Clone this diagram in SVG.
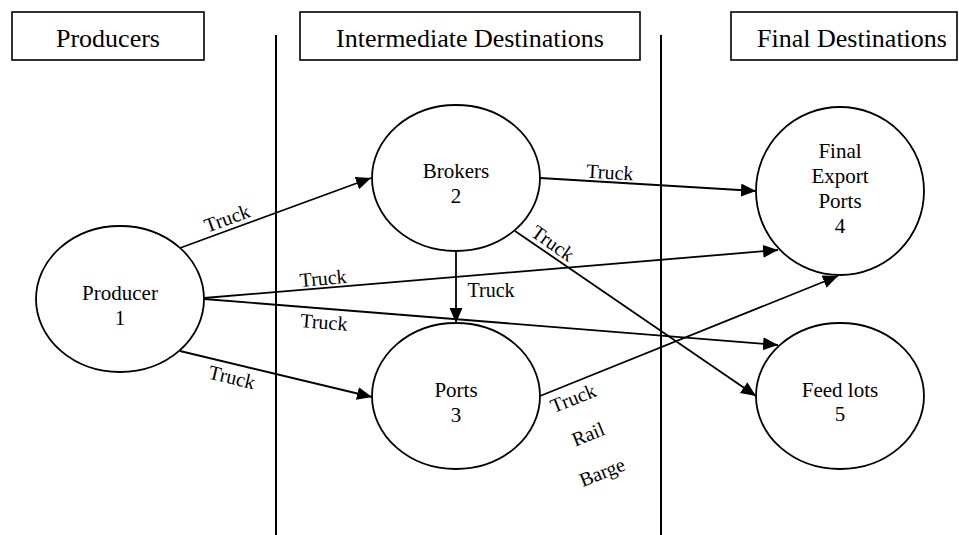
<svg xmlns="http://www.w3.org/2000/svg" width="959" height="535" viewBox="0 0 959 535">
<style>
  text { font-family: "Liberation Serif", "Times New Roman", serif; fill: #000; }
  .hdr { font-size: 26px; text-anchor: middle; }
  .hbox { fill: #fff; stroke: #000; stroke-width: 1.6; }
  .node ellipse { fill: #fff; stroke: #000; stroke-width: 1.8; }
  .node text { font-size: 21px; text-anchor: middle; }
  .sep { stroke: #000; stroke-width: 2; }
  .edge { stroke: #000; stroke-width: 1.8; fill: none; marker-end: url(#arr); }
  .lbl { font-size: 20px; text-anchor: middle; }
</style>
<defs>
  <marker id="arr" markerUnits="userSpaceOnUse" markerWidth="16" markerHeight="14" refX="15" refY="6.5" orient="auto">
    <path d="M0,0 L15,6.5 L0,13 Z" fill="#000"/>
  </marker>
</defs>
<rect width="959" height="535" fill="#fff"/>

<g id="headers">
  <rect class="hbox" x="12" y="12" width="192" height="48"/>
  <text class="hdr" x="108" y="47">Producers</text>
  <rect class="hbox" x="300" y="12" width="340" height="48"/>
  <text class="hdr" x="470" y="47">Intermediate Destinations</text>
  <rect class="hbox" x="731" y="12" width="226" height="48"/>
  <text class="hdr" x="852" y="47">Final Destinations</text>
</g>

<g id="separators">
  <line class="sep" x1="276" y1="35" x2="276" y2="535"/>
  <line class="sep" x1="661" y1="35" x2="661" y2="535"/>
</g>

<g id="connectors">
  <line class="edge" x1="180" y1="248" x2="371" y2="178"/>
  <line class="edge" x1="204" y1="298" x2="778" y2="250"/>
  <line class="edge" x1="204" y1="299" x2="778" y2="345"/>
  <line class="edge" x1="180" y1="351" x2="372" y2="397"/>
  <line class="edge" x1="456" y1="251" x2="456" y2="323"/>
  <line class="edge" x1="540" y1="178" x2="756" y2="191"/>
  <line class="edge" x1="515" y1="231" x2="756" y2="396"/>
  <line class="edge" x1="540" y1="396" x2="838" y2="276"/>
  <g id="labels">
    <text class="lbl" transform="translate(227,218) rotate(-20)" y="7">Truck</text>
    <text class="lbl" transform="translate(323,278) rotate(-5)" y="7">Truck</text>
    <text class="lbl" transform="translate(324,322) rotate(4.6)" y="7">Truck</text>
    <text class="lbl" transform="translate(232,377) rotate(13.5)" y="7">Truck</text>
    <text class="lbl" transform="translate(491,290)" y="7">Truck</text>
    <text class="lbl" transform="translate(610,172) rotate(3.5)" y="7">Truck</text>
    <text class="lbl" transform="translate(553,243) rotate(35)" y="7">Truck</text>
    <text class="lbl" transform="translate(573,398) rotate(-22)" y="7">Truck</text>
    <text class="lbl" transform="translate(588,434) rotate(-22)" y="7">Rail</text>
    <text class="lbl" transform="translate(602,472) rotate(-22)" y="7">Barge</text>
  </g>
</g>

<g id="n1" class="node">
  <ellipse cx="120" cy="299" rx="84" ry="73"/>
  <text x="120" y="300">Producer</text>
  <text x="120" y="325">1</text>
</g>
<g id="n2" class="node">
  <ellipse cx="456" cy="178" rx="84" ry="73"/>
  <text x="456" y="178">Brokers</text>
  <text x="456" y="203">2</text>
</g>
<g id="n3" class="node">
  <ellipse cx="456" cy="396" rx="84" ry="73"/>
  <text x="456" y="397">Ports</text>
  <text x="456" y="422">3</text>
</g>
<g id="n4" class="node">
  <ellipse cx="840" cy="191" rx="84" ry="84"/>
  <text x="840" y="158">Final</text>
  <text x="840" y="183">Export</text>
  <text x="840" y="208">Ports</text>
  <text x="840" y="233">4</text>
</g>
<g id="n5" class="node">
  <ellipse cx="840" cy="396" rx="84" ry="73"/>
  <text x="840" y="397">Feed lots</text>
  <text x="840" y="421">5</text>
</g>
</svg>
